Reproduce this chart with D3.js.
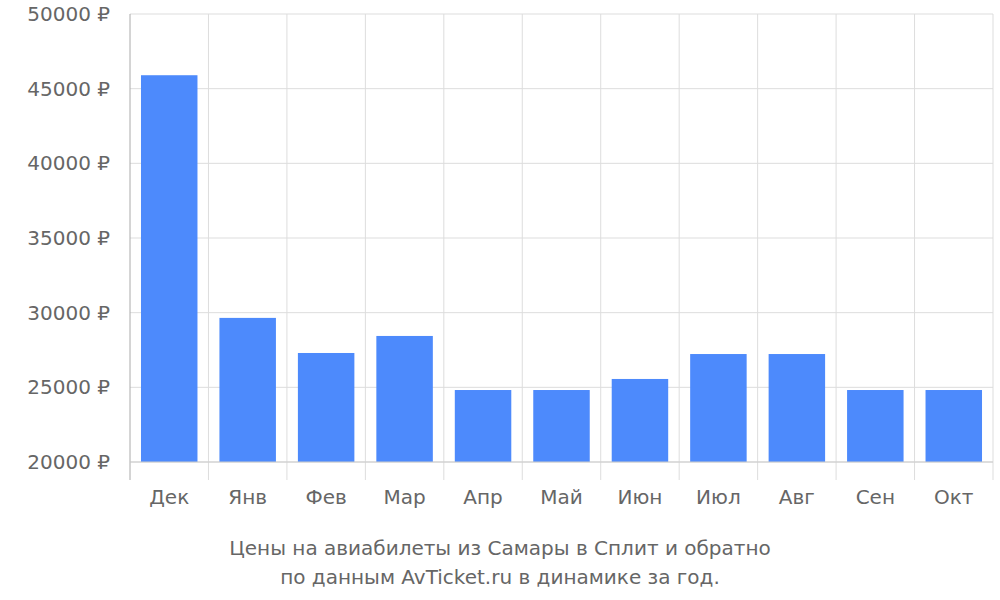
<!DOCTYPE html>
<html><head><meta charset="utf-8">
<script src="https://cdn.jsdelivr.net/npm/d3@7"></script>
<style>body{margin:0;background:#fff}text{font-family:"DejaVu Sans",sans-serif;fill:#666}</style>
</head><body>
<script>
const months = ["Дек","Янв","Фев","Мар","Апр","Май","Июн","Июл","Авг","Сен","Окт"];
const prices = [45900, 29650, 27300, 28440, 24820, 24820, 25560, 27230, 27230, 24820, 24820];
const yTicks = [20000, 25000, 30000, 35000, 40000, 45000, 50000];
const titleLines = ["Цены на авиабилеты из Самары в Сплит и обратно", "по данным AvTicket.ru в динамике за год."];

const svg = d3.select("body").append("svg").attr("width", 1000).attr("height", 600);
const x = d3.scaleBand().domain(months).range([130, 993]);
const y = d3.scaleLinear().domain([20000, 50000]).range([462, 14]);

// grid
svg.selectAll(".hg").data(yTicks).enter().append("line")
  .attr("x1", 130).attr("x2", 993).attr("y1", d => y(d)).attr("y2", d => y(d))
  .attr("stroke", "#ddd");
const bounds = months.map(m => x(m)).concat([x.range()[1]]);
svg.selectAll(".vg").data(bounds).enter().append("line")
  .attr("x1", d => d).attr("x2", d => d).attr("y1", 14).attr("y2", 480)
  .attr("stroke", (d, i) => i == 0 ? "#aaa" : "#ddd");

// bars
const bw = x.bandwidth() * 0.72;
svg.selectAll("rect").data(months).enter().append("rect")
  .attr("x", d => x(d) + (x.bandwidth() - bw) / 2)
  .attr("width", bw)
  .attr("y", (d, i) => y(prices[i]))
  .attr("height", (d, i) => y(20000) - y(prices[i]))
  .attr("fill", "#4d8afc");

svg.append("line").attr("x1", 130).attr("x2", 993).attr("y1", 462).attr("y2", 462).attr("stroke", "#ccc");

// labels
svg.selectAll(".yl").data(yTicks).enter().append("text")
  .attr("x", 110).attr("y", d => y(d) + 7).attr("text-anchor", "end")
  .attr("font-size", 20).text(d => d + " ₽");
svg.selectAll(".xl").data(months).enter().append("text")
  .attr("x", d => x(d) + x.bandwidth() / 2).attr("y", 504).attr("text-anchor", "middle")
  .attr("font-size", 20).text(d => d);
svg.selectAll(".tl").data(titleLines).enter().append("text")
  .attr("x", 500).attr("y", (d, i) => 555 + i * 29).attr("text-anchor", "middle")
  .attr("font-size", 20).text(d => d);
</script>
</body></html>
